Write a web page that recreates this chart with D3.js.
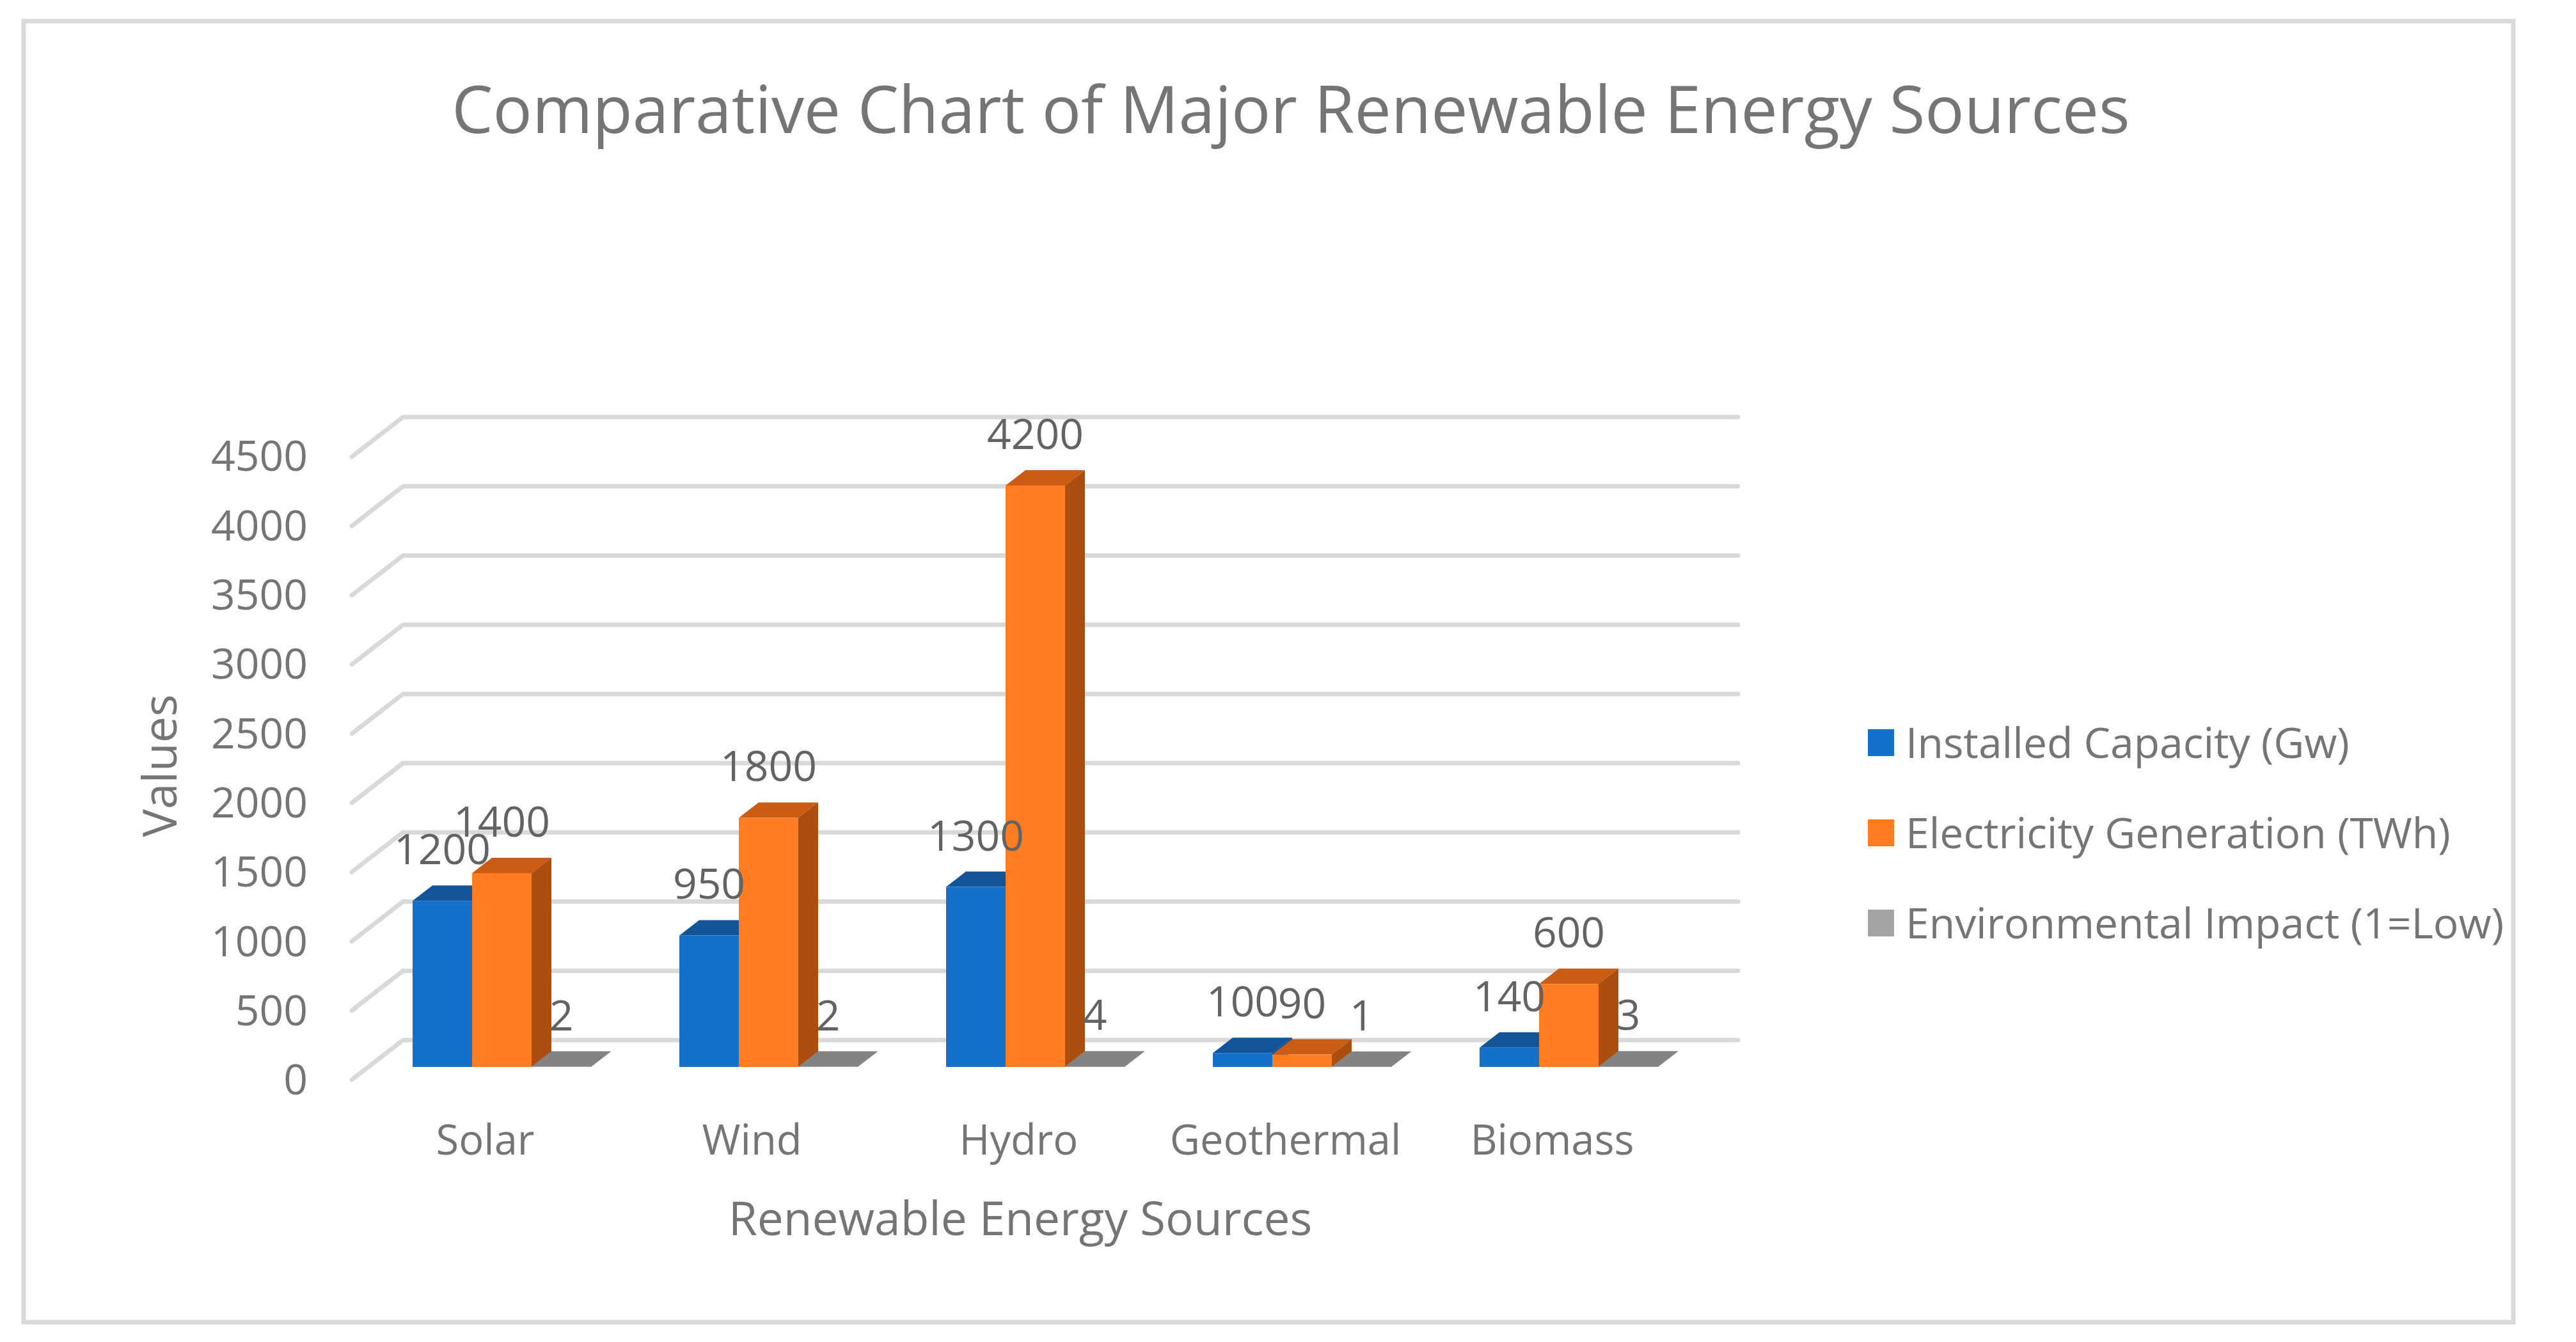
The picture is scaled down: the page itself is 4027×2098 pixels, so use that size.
<!DOCTYPE html>
<html><head><meta charset="utf-8">
<script src="https://cdn.jsdelivr.net/npm/d3@7/dist/d3.min.js"></script>
<style>html,body{margin:0;padding:0;background:#fff}svg{display:block}text{font-family:"Open Sans","Noto Sans",sans-serif}</style>
</head><body><svg id="c" width="4027" height="2098"></svg>
<script>
const categories = ["Solar","Wind","Hydro","Geothermal","Biomass"];
const seriesNames = ["Installed Capacity (Gw)","Electricity Generation (TWh)","Environmental Impact (1=Low)"];
const installedCapacity = [1200,950,1300,100,140];
const electricityGeneration = [1400,1800,4200,90,600];
const environmentalImpact = [2,2,4,1,3];
const yTicks = [0,500,1000,1500,2000,2500,3000,3500,4000,4500];
const titleText = "Comparative Chart of Major Renewable Energy Sources";
const xTitle = "Renewable Energy Sources";
const yTitle = "Values";

const svg = d3.select("#c");
const series = [installedCapacity, electricityGeneration, environmentalImpact];
const front = ["#1570c9","#ff7d20","#a5a5a5"];
const top_ = ["#125499","#cb5c13","#838383"];
const side = ["#0f4a87","#ab4e10","#6e6e6e"];
const GRID="#d9d9d9", TXT="#757575", LBL="#636363";
const FS=66;

svg.append("rect").attr("x",37).attr("y",33).attr("width",3892).attr("height",2034)
  .attr("fill","#fff").attr("stroke",GRID).attr("stroke-width",7);

// scales
const hgt = d3.scaleLinear().domain([0,4500]).range([0,974]);   // value -> pixel height
const floorFront = 1688, floorBack = 1626, wallX = 630, frontX = 550, rightX = 2717;
const band = d3.scaleBand().domain(categories).range([frontX,2635]);
const barOrder = d3.scaleBand().domain([0,1,2]).range([95,374]);
const barBase = 1668, ddx = 31, ddy = 24;

// walls
const g = svg.append("g").attr("stroke",GRID).attr("stroke-width",7).attr("fill","none").attr("stroke-linecap","round");
yTicks.forEach(t=>{
  const h = hgt(t);
  g.append("path").attr("d",d3.line()([[frontX,floorFront-h],[wallX,floorBack-h],[rightX,floorBack-h]]));
});

// bars
categories.forEach((c,ci)=>{
  series.forEach((s,si)=>{
    const x0 = band(c)+barOrder(si), w = barOrder.bandwidth(), h = hgt(s[ci]);
    const y1 = barBase-h;
    const poly = pts => svg.append("polygon").attr("points",pts.map(p=>p.join(",")).join(" "));
    poly([[x0,y1],[x0+ddx,y1-ddy],[x0+w+ddx,y1-ddy],[x0+w,y1]]).attr("fill",top_[si]);
    poly([[x0+w,y1],[x0+w+ddx,y1-ddy],[x0+w+ddx,barBase-ddy],[x0+w,barBase]]).attr("fill",side[si]);
    poly([[x0,y1],[x0+w,y1],[x0+w,barBase],[x0,barBase]]).attr("fill",si===2?top_[si]:front[si]);
  });
});

// data labels
categories.forEach((c,ci)=>{
  series.forEach((s,si)=>{
    const x = band(c)+barOrder(si)+barOrder.bandwidth()/2;
    svg.append("text").attr("x",x).attr("y",barBase-hgt(s[ci])-83)
      .attr("text-anchor","middle").attr("dominant-baseline","central")
      .attr("font-size",FS).attr("fill",LBL).text(s[ci]);
  });
});

// y axis labels
const yTickScale = d3.scaleLinear().domain([0,4500]).range([1687,712]);
const ax = svg.append("g").attr("transform","translate(481,0)")
  .call(d3.axisLeft(yTickScale).tickValues(yTicks).tickSize(0).tickPadding(0).tickFormat(d3.format("d")));
ax.select(".domain").remove();
ax.selectAll("text").attr("font-size",FS).attr("fill",TXT).attr("dy","0.36em");
ax.attr("font-family",null);

// x axis labels
const xAxis = svg.append("g").attr("transform","translate(0,1782)")
  .call(d3.axisBottom(band).tickSize(0).tickPadding(0));
xAxis.select(".domain").remove();
xAxis.selectAll("text").attr("font-size",65).attr("fill",TXT).attr("dy","0.36em");
xAxis.attr("font-family",null);

// titles
svg.append("text").attr("x",2018).attr("y",168).attr("text-anchor","middle").attr("dominant-baseline","central")
  .attr("font-size",102).attr("fill",TXT).text(titleText);
svg.append("text").attr("x",1595).attr("y",1902).attr("text-anchor","middle").attr("dominant-baseline","central")
  .attr("font-size",73).attr("fill",TXT).text(xTitle);
svg.append("text").attr("transform","translate(247,1197) rotate(-90)").attr("text-anchor","middle").attr("dominant-baseline","central")
  .attr("font-size",73).attr("fill",TXT).text(yTitle);

// legend
const legendY = d3.scalePoint().domain(seriesNames).range([1161,1443]);
seriesNames.forEach((n,i)=>{
  svg.append("rect").attr("x",2920).attr("y",legendY(n)-21).attr("width",41).attr("height",42).attr("fill",front[i]);
  svg.append("text").attr("x",2979).attr("y",legendY(n)-2).attr("dominant-baseline","central")
    .attr("font-size",66).attr("fill",TXT).text(n);
});
</script></body></html>
